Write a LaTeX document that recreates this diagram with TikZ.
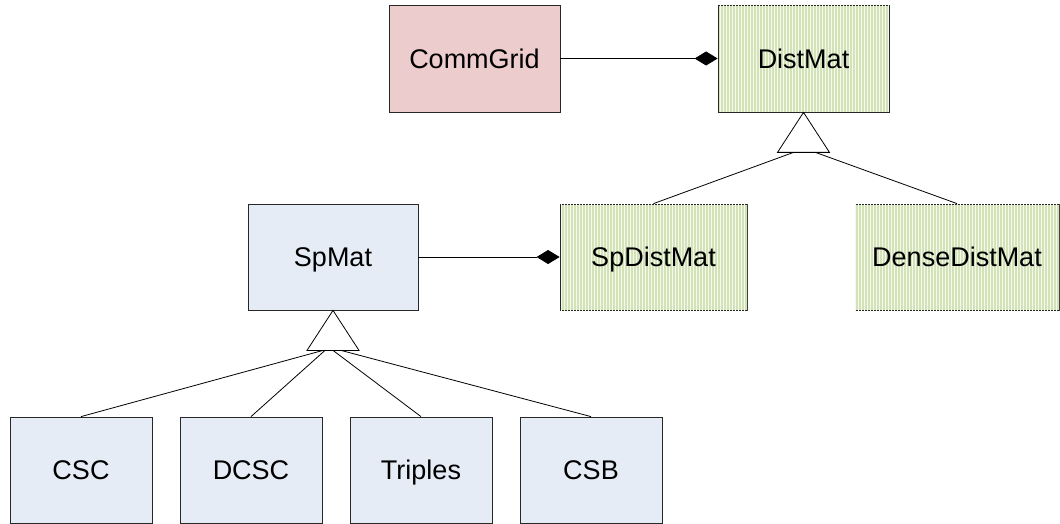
\documentclass[tikz,border=0pt]{standalone}
\usepackage{fontspec}
\setmainfont{Liberation Sans}
\usetikzlibrary{arrows.meta,patterns}
\definecolor{gridpink}{RGB}{236,204,204}
\definecolor{spblue}{RGB}{230,236,246}
\definecolor{dmgreen}{RGB}{212,226,184}
\definecolor{edge}{RGB}{40,40,40}
\tikzset{
  cls/.style={draw=edge, line width=0.8pt, inner sep=0pt, minimum height=106pt,
    text height=19.3pt, text depth=0pt,
    font=\fontsize{27}{32}\selectfont, text=black},
  pinkbox/.style={cls, fill=gridpink, minimum width=171pt, minimum height=107pt},
  bluebox/.style={cls, fill=spblue},
  greenbox/.style={cls, fill=dmgreen,
    postaction={pattern=vertical lines, pattern color=white!75!dmgreen}},
  conn/.style={draw=black, line width=0.8pt},
  compose/.style={conn, -{Diamond[length=23pt,width=14pt]}},
  inherit/.style={draw=black, line width=0.8pt, fill=white},
}
\begin{document}
\begin{tikzpicture}[x=1pt,y=-1pt]
\useasboundingbox (0,0) rectangle (1060,524);
% top row
\node[pinkbox] (comm) at (474.5,58.5) {CommGrid};
\node[greenbox, minimum width=171pt, minimum height=107pt] (dist) at (803.5,58.5) {DistMat};
% middle row
\node[bluebox, minimum width=170pt] (spmat) at (333,257) {SpMat};
\node[greenbox, minimum width=187pt] (spdist) at (653.5,257) {SpDistMat};
\node[greenbox, minimum width=204pt] (dense) at (957,257) {DenseDistMat};
% bottom row
\node[bluebox, minimum width=142pt] (csc) at (81,470) {CSC};
\node[bluebox, minimum width=142pt] (dcsc) at (251,470) {DCSC};
\node[bluebox, minimum width=142pt] (trip) at (421,470) {Triples};
\node[bluebox, minimum width=142pt] (csb) at (591,470) {CSB};
% composition
\draw[compose] (comm.east) -- (dist.west);
\draw[compose] (spmat.east) -- (spdist.west);
% inheritance from DistMat
\coordinate (dtip) at (dist.south);
\coordinate (dbl) at ([shift={(-26,40)}]dtip);
\coordinate (dbr) at ([shift={(26,40)}]dtip);
\coordinate (dba) at ([shift={(-10,40)}]dtip);
\coordinate (dbb) at ([shift={(12,40)}]dtip);
\draw[conn] (dba) -- (spdist.north);
\draw[conn] (dbb) -- (dense.north);
\draw[inherit] (dtip) -- (dbl) -- (dbr) -- cycle;
% inheritance from SpMat
\coordinate (stip) at (spmat.south);
\coordinate (sbl) at ([shift={(-26,40)}]stip);
\coordinate (sbr) at ([shift={(26,40)}]stip);
\coordinate (sba) at ([shift={(-10,40)}]stip);
\coordinate (sbb) at ([shift={(-8,40)}]stip);
\coordinate (sbc) at ([shift={(0,40)}]stip);
\coordinate (sbd) at ([shift={(8,40)}]stip);
\draw[conn] (sba) -- (csc.north);
\draw[conn] (sbb) -- (dcsc.north);
\draw[conn] (sbc) -- (trip.north);
\draw[conn] (sbd) -- (csb.north);
\draw[inherit] (stip) -- (sbl) -- (sbr) -- cycle;
\end{tikzpicture}
\end{document}
